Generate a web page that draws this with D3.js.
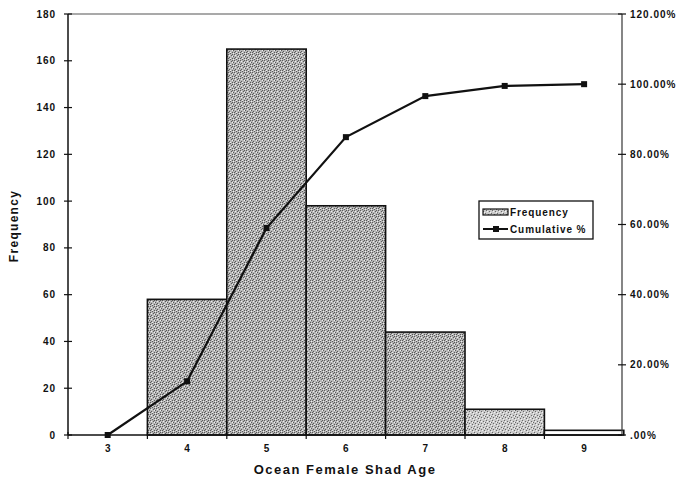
<!DOCTYPE html>
<html>
<head>
<meta charset="utf-8">
<script src="https://cdn.jsdelivr.net/npm/d3@7"></script>
<style>
  body { margin: 0; background: #fff; }
  text { font-family: Arial, "Liberation Sans", sans-serif; font-weight: bold; fill: #111; }
</style>
</head>
<body>
<svg id="chart" width="684" height="485"></svg>
<script>
const ages = ['3', '4', '5', '6', '7', '8', '9']
const frequency = [0, 58, 165, 98, 44, 11, 2]
const cumulativePct = [0, 15.3, 59.0, 84.9, 96.6, 99.5, 100]
const leftTicks = [0, 20, 40, 60, 80, 100, 120, 140, 160, 180]
const rightTicks = [0, 20, 40, 60, 80, 100, 120]
const rightTickLabels = ['.00%', '20.00%', '40.00%', '60.00%', '80.00%', '100.00%', '120.00%']

const svg = d3.select('#chart')
const plotLeft = 68, plotRight = 622, plotTop = 14, plotBottom = 435

const x = d3.scaleBand().domain(ages).range([plotLeft, plotLeft + 79.4 * 7]).padding(0)
const y = d3.scaleLinear().domain([0, 180]).range([plotBottom, plotTop])
const y2 = d3.scaleLinear().domain([0, 120]).range([plotBottom, plotTop])

// stipple texture for the bars
const defs = svg.append('defs')
const dots = [[0, 0], [3, 1], [1, 3], [4, 4], [5, 2], [2, 5], [0, 4], [4, 0]]
const lightDots = [[1, 1], [4, 2], [2, 4], [5, 5]]
const pat = defs.append('pattern').attr('id', 'stipple')
  .attr('width', 6).attr('height', 6).attr('patternUnits', 'userSpaceOnUse')
pat.append('rect').attr('width', 6).attr('height', 6).attr('fill', '#b6b6b6')
pat.selectAll('rect.d').data(dots).enter().append('rect')
  .attr('class', 'd').attr('x', d => d[0]).attr('y', d => d[1])
  .attr('width', 1).attr('height', 1).attr('fill', '#5a5a5a')
pat.selectAll('rect.l').data(lightDots).enter().append('rect')
  .attr('class', 'l').attr('x', d => d[0]).attr('y', d => d[1])
  .attr('width', 1).attr('height', 1).attr('fill', '#eeeeee')
const pat2 = defs.append('pattern').attr('id', 'stippleLight')
  .attr('width', 6).attr('height', 6).attr('patternUnits', 'userSpaceOnUse')
pat2.append('rect').attr('width', 6).attr('height', 6).attr('fill', '#cacaca')
pat2.selectAll('rect.d').data(dots.slice(0, 5)).enter().append('rect')
  .attr('class', 'd').attr('x', d => d[0]).attr('y', d => d[1])
  .attr('width', 1).attr('height', 1).attr('fill', '#6a6a6a')
pat2.selectAll('rect.l').data(lightDots).enter().append('rect')
  .attr('class', 'l').attr('x', d => d[0]).attr('y', d => d[1])
  .attr('width', 1).attr('height', 1).attr('fill', '#f4f4f4')

// top frame line
svg.append('line').attr('x1', plotLeft).attr('x2', plotRight).attr('y1', plotTop).attr('y2', plotTop)
  .attr('stroke', '#555').attr('stroke-width', 1.2)

// bars
svg.append('g').selectAll('rect')
  .data(frequency)
  .enter()
  .append('rect')
  .attr('x', (d, i) => x(ages[i]))
  .attr('width', x.bandwidth())
  .attr('y', d => y(d))
  .attr('height', d => plotBottom - y(d))
  .attr('fill', (d, i) => i === 5 ? 'url(#stippleLight)' : (i === 6 ? '#fff' : 'url(#stipple)'))
  .attr('stroke', '#111')
  .attr('stroke-width', 1.6)
  .style('display', d => d > 0 ? null : 'none')

// left axis
const gl = svg.append('g').attr('transform', `translate(${plotLeft},0)`)
gl.append('line').attr('y1', plotTop).attr('y2', plotBottom).attr('stroke', '#111').attr('stroke-width', 1.5)
gl.selectAll('line.t').data(leftTicks).enter().append('line')
  .attr('class', 't').attr('x1', -4).attr('x2', 4)
  .attr('y1', d => y(d)).attr('y2', d => y(d)).attr('stroke', '#111').attr('stroke-width', 1.2)
gl.selectAll('text').data(leftTicks).enter().append('text')
  .attr('x', -12).attr('y', d => y(d) + 3.5).attr('text-anchor', 'end')
  .attr('font-size', 10).attr('letter-spacing', 0.9).text(d => d)

// right axis
const gr = svg.append('g').attr('transform', `translate(${plotRight},0)`)
gr.append('line').attr('y1', plotTop).attr('y2', plotBottom).attr('stroke', '#444').attr('stroke-width', 1.3)
gr.selectAll('line.t').data(rightTicks).enter().append('line')
  .attr('class', 't').attr('x1', -4).attr('x2', 4)
  .attr('y1', d => y2(d)).attr('y2', d => y2(d)).attr('stroke', '#111').attr('stroke-width', 1.2)
gr.selectAll('text').data(rightTicks).enter().append('text')
  .attr('x', 8).attr('y', d => y2(d) + 3.5).attr('text-anchor', 'start')
  .attr('font-size', 10).attr('letter-spacing', 1).text((d, i) => rightTickLabels[i])

// bottom axis
const gb = svg.append('g')
gb.append('line').attr('x1', plotLeft).attr('x2', plotRight).attr('y1', plotBottom).attr('y2', plotBottom)
  .attr('stroke', '#111').attr('stroke-width', 1.5)
gb.selectAll('line.t').data(ages).enter().append('line')
  .attr('class', 't')
  .attr('x1', d => x(d)).attr('x2', d => x(d))
  .attr('y1', plotBottom - 3).attr('y2', plotBottom + 4).attr('stroke', '#111').attr('stroke-width', 1.2)
gb.selectAll('text').data(ages).enter().append('text')
  .attr('x', d => x(d) + x.bandwidth() / 2).attr('y', 452).attr('text-anchor', 'middle')
  .attr('font-size', 10).text(d => d)

// axis titles
svg.append('text').attr('x', 345).attr('y', 474).attr('text-anchor', 'middle')
  .attr('font-size', 13).attr('letter-spacing', 1.5).text('Ocean Female Shad Age')
svg.append('text').attr('transform', 'translate(18,226) rotate(-90)').attr('text-anchor', 'middle')
  .attr('font-size', 12).attr('letter-spacing', 1.3).text('Frequency')

// cumulative line
const line = d3.line()
  .x((d, i) => x(ages[i]) + x.bandwidth() / 2)
  .y(d => y2(d))
svg.append('path').datum(cumulativePct).attr('d', line)
  .attr('fill', 'none').attr('stroke', '#111').attr('stroke-width', 2.2)
svg.append('g').selectAll('rect').data(cumulativePct).enter().append('rect')
  .attr('x', (d, i) => x(ages[i]) + x.bandwidth() / 2 - 3)
  .attr('y', d => y2(d) - 3)
  .attr('width', 6).attr('height', 6).attr('fill', '#111')

// legend
const lg = svg.append('g').attr('transform', 'translate(479,201)')
lg.append('rect').attr('width', 114).attr('height', 38).attr('fill', '#fff')
  .attr('stroke', '#111').attr('stroke-width', 1.3)
lg.append('rect').attr('x', 4).attr('y', 8).attr('width', 25).attr('height', 6)
  .attr('fill', 'url(#stippleLight)').attr('stroke', '#111').attr('stroke-width', 1.2)
lg.append('text').attr('x', 31).attr('y', 15).attr('font-size', 10).attr('letter-spacing', 0.9).text('Frequency')
lg.append('line').attr('x1', 4).attr('x2', 29).attr('y1', 28).attr('y2', 28)
  .attr('stroke', '#111').attr('stroke-width', 2)
lg.append('rect').attr('x', 14).attr('y', 25).attr('width', 6).attr('height', 6).attr('fill', '#111')
lg.append('text').attr('x', 31).attr('y', 32).attr('font-size', 10).attr('letter-spacing', 0.9).text('Cumulative %')
</script>
</body>
</html>
